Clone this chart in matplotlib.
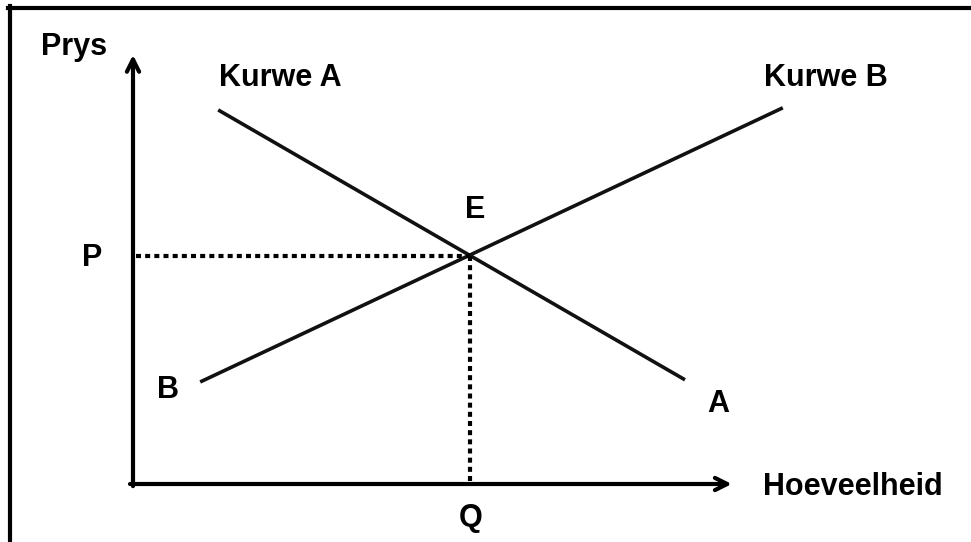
import matplotlib
matplotlib.use('Agg')
import matplotlib.pyplot as plt
from matplotlib.lines import Line2D

# curve endpoints (quantity, price)
curve_a_x = [1.42, 9.2]
curve_a_y = [8.76, 2.44]
curve_b_x = [1.12, 10.83]
curve_b_y = [2.39, 8.81]
eq_q = 5.62
eq_p = 5.34
axis_len_x = 10.0
axis_len_y = 10.0

plt.rcParams['font.family'] = ['Liberation Sans', 'DejaVu Sans']

fig = plt.figure(figsize=(9.71, 5.42), dpi=100)
ax = fig.add_axes([133 / 971, 58 / 542, 1 - 133 / 971, 1 - 58 / 542])
ax.set_xlim(0, (971 - 133) / 60)
ax.set_ylim(0, 484 / 42.7)
ax.axis('off')

# frame around the picture
fig.add_artist(Line2D([10 / 971, 10 / 971], [0, 1 - 6 / 542], color='black', lw=3))
fig.add_artist(Line2D([8 / 971, 1], [1 - 7.5 / 542, 1 - 7.5 / 542], color='black', lw=3))

# axes with open arrows
arrow = dict(arrowstyle='->', lw=3, color='black', mutation_scale=22, shrinkA=0, shrinkB=0)
ax.annotate('', xy=(0, axis_len_y * 1.005), xytext=(0, -0.05), arrowprops=arrow, annotation_clip=False)
ax.annotate('', xy=(axis_len_x * 0.998, 0), xytext=(-0.05, 0), arrowprops=arrow, annotation_clip=False)

# curves
ax.plot(curve_a_x, curve_a_y, color='#111111', lw=2.6, solid_capstyle='butt', clip_on=False)
ax.plot(curve_b_x, curve_b_y, color='#111111', lw=2.6, solid_capstyle='butt', clip_on=False)

# dotted guides to the equilibrium
ax.plot([0.05, eq_q], [eq_p, eq_p], color='black', lw=3, ls=(0, (1.2, 1.0)),
        dash_capstyle='butt', clip_on=False)
ax.plot([eq_q, eq_q], [eq_p, 0], color='black', lw=3, ls=(0, (1.2, 1.0)),
        dash_capstyle='butt', clip_on=False)

kw = dict(fontsize=22, fontweight='bold', ha='center', va='center', clip_on=False)
ax.text(-0.98, 10.23, 'Prys', **kw)
ax.text(2.45, 9.51, 'Kurwe A', **kw)
ax.text(11.55, 9.51, 'Kurwe B', **kw)
ax.text(5.7, 6.42, 'E', **kw)
ax.text(-0.68, 5.29, 'P', **kw)
ax.text(0.58, 2.2, 'B', **kw)
ax.text(9.75, 1.87, 'A', **kw)
ax.text(12.0, -0.07, 'Hoeveelheid', **kw)
ax.text(eq_q, -0.8, 'Q', **kw)

fig.savefig('out.png', dpi=100)
